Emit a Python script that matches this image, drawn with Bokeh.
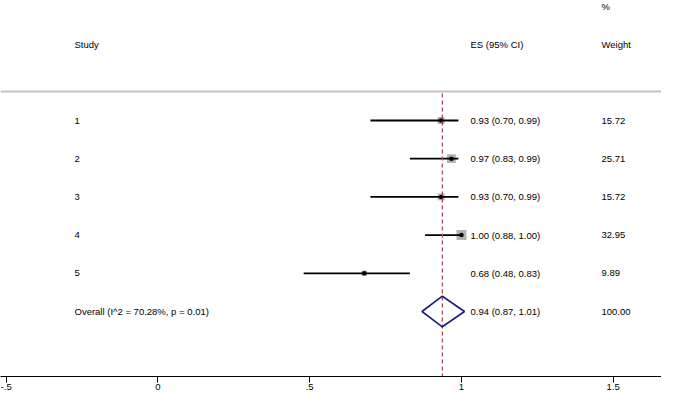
import math
from bokeh.plotting import figure
from bokeh.models import Range1d, FixedTicker, CustomJSTickFormatter, Span
from bokeh.core.properties import value
from bokeh.embed import file_html
from bokeh.resources import INLINE

# ---------------- data ----------------
studies = ["1", "2", "3", "4", "5"]
es = [0.933, 0.967, 0.933, 1.00, 0.68]
ci_lo = [0.70, 0.83, 0.70, 0.88, 0.48]
ci_hi = [0.99, 0.99, 0.99, 1.00, 0.83]
es_labels = ["0.93 (0.70, 0.99)", "0.97 (0.83, 0.99)", "0.93 (0.70, 0.99)",
             "1.00 (0.88, 1.00)", "0.68 (0.48, 0.83)"]
weights = [15.72, 25.71, 15.72, 32.95, 9.89]
weight_labels = ["15.72", "25.71", "15.72", "32.95", "9.89"]
overall_es = 0.937
overall_lo = 0.87
overall_hi = 1.01
overall_label = "Overall  (I^2 = 70.28%, p = 0.01)"
overall_es_label = "0.94 (0.87, 1.01)"
overall_weight_label = "100.00"
header_study = "Study"
header_es = "ES (95% CI)"
header_pct = "%"
header_weight = "Weight"
x_ticks = [-0.5, 0, 0.5, 1, 1.5]

# ---------------- layout ----------------
FW, FH = 661, 376
PPU = 303.5           # pixels per x unit
X_START = -0.5 - 5.7 / PPU
X_END = X_START + FW / PPU
ROW_PX, ROW1_PX = 38.2, 120
Y_TOP = 1 - ROW1_PX / ROW_PX
Y_BOTTOM = 1 + (FH - ROW1_PX) / ROW_PX


def px2x(px):
    return X_START + px / PPU


def px2r(px):
    return 1 + (px - ROW1_PX) / ROW_PX


FONT = value("Liberation Sans")
FS = "9.5px"

p = figure(frame_width=FW, frame_height=FH, min_border=0,
           x_range=Range1d(X_START, X_END), y_range=Range1d(Y_BOTTOM, Y_TOP),
           y_axis_location=None, output_backend="svg", toolbar_location=None)
p.outline_line_color = None
p.xgrid.visible = False
p.ygrid.visible = False
p.background_fill_color = "white"
p.border_fill_color = "white"

ax = p.xaxis[0]
ax.ticker = FixedTicker(ticks=x_ticks, minor_ticks=[])
ax.formatter = CustomJSTickFormatter(code="return String(tick).replace('0.', '.');")
ax.major_tick_out = 6
ax.major_tick_in = 0
ax.minor_tick_out = 0
ax.minor_tick_in = 0
ax.axis_line_color = "black"
ax.major_tick_line_color = "black"
ax.major_label_standoff = 1
ax.major_label_text_font = "Liberation Sans"
ax.major_label_text_font_size = FS
ax.major_label_text_color = "black"

rows = list(range(1, len(studies) + 1))
r_overall = len(studies) + 1

# header separator
p.add_layout(Span(location=px2r(91), dimension="width", line_color="#c4c4c4", line_width=2))

# squares sized by weight
p.scatter(x=es, y=rows, marker="square", size=[1.74 * math.sqrt(w) for w in weights],
          fill_color="#b3b3b3", line_color=None)
# CI lines
p.segment(x0=ci_lo, y0=rows, x1=ci_hi, y1=rows, line_color="black", line_width=1.8)
# point estimates
p.scatter(x=es, y=rows, size=4.5, fill_color="black", line_color=None)

# overall line
p.segment(x0=[overall_es], y0=[px2r(93)], x1=[overall_es], y1=[Y_BOTTOM],
          line_color="#b04a5a", line_width=1.3, line_dash="4 3")

# diamond
h = 0.40
p.patch(x=[overall_lo, overall_es, overall_hi, overall_es],
        y=[r_overall, r_overall - h, r_overall, r_overall + h],
        fill_color=None, line_color="#1f1f7a", line_width=1.6)

# texts
col_study, col_es, col_w = px2x(74), px2x(470), px2x(601)
r_head, r_pct = px2r(44), px2r(6)

txt = dict(text_font=FONT, text_font_size=FS, text_baseline="middle",
           text_align="left", text_color="black")
p.text(x=[col_study] * (len(studies) + 1), y=rows + [r_overall],
       text=studies + [overall_label], **txt)
p.text(x=[col_es] * (len(studies) + 1), y=rows + [r_overall],
       text=es_labels + [overall_es_label], **txt)
p.text(x=[col_w] * (len(studies) + 1), y=rows + [r_overall],
       text=weight_labels + [overall_weight_label], **txt)
p.text(x=[col_study, col_es, col_w, col_w], y=[r_head, r_head, r_head, r_pct],
       text=[header_study, header_es, header_weight, header_pct], **txt)

open("out.html", "w").write(file_html(p, INLINE))
